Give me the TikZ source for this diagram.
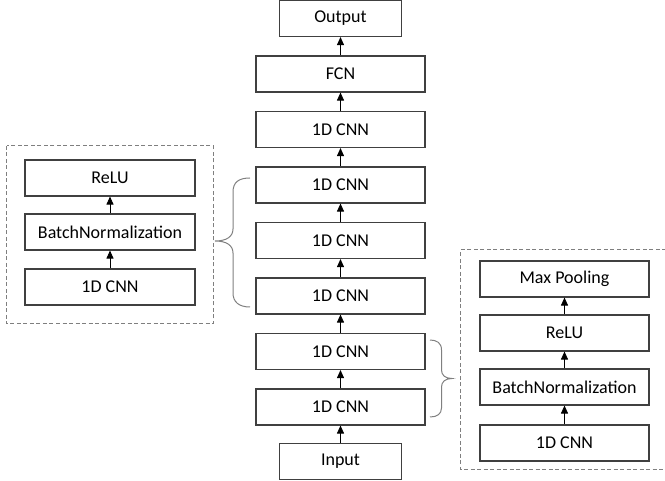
\documentclass[tikz,border=0pt]{standalone}
\usepackage{fontspec}
\setmainfont{Carlito}
\usetikzlibrary{arrows.meta}
\definecolor{boxline}{HTML}{404040}
\definecolor{dashline}{HTML}{7F7F7F}
\definecolor{braceline}{HTML}{808080}
\tikzset{
  layer/.style={draw=boxline, line width=1.1pt, fill=white, minimum width=169pt,
    minimum height=36pt, inner sep=0pt, font=\fontsize{18}{20}\selectfont},
  endbox/.style={layer, minimum width=122pt},
  flow/.style={draw=black, line width=0.9pt, -{Triangle[length=8pt,width=7pt]}},
  group/.style={draw=dashline, line width=1pt, dash pattern=on 4pt off 2.5pt},
  bracepath/.style={draw=braceline, line width=1pt}
}
\begin{document}
\begin{tikzpicture}[x=1pt, y=-1pt]
\useasboundingbox (0,0) rectangle (665,481);

% main column
\node[endbox] (out) at (340.5,18.5) {Output};
\node[layer]  (fcn) at (340.5,74)   {FCN};
\node[layer]  (c1)  at (340.5,129.5) {1D CNN};
\node[layer]  (c2)  at (340.5,185)   {1D CNN};
\node[layer]  (c3)  at (340.5,240.5) {1D CNN};
\node[layer]  (c4)  at (340.5,296)   {1D CNN};
\node[layer]  (c5)  at (340.5,351.5) {1D CNN};
\node[layer]  (c6)  at (340.5,407)   {1D CNN};
\node[endbox] (in)  at (340.5,461.5) {Input};

\draw[flow] (in) -- (c6);
\draw[flow] (c6) -- (c5);
\draw[flow] (c5) -- (c4);
\draw[flow] (c4) -- (c3);
\draw[flow] (c3) -- (c2);
\draw[flow] (c2) -- (c1);
\draw[flow] (c1) -- (fcn);
\draw[flow] (fcn) -- (out);

% left block: convolution unit
\draw[group] (6.5,146) rectangle (213,324);
\node[layer, minimum width=170pt] (lrelu) at (110,178) {ReLU};
\node[layer, minimum width=170pt] (lbn)   at (110,232) {BatchNormalization};
\node[layer, minimum width=170pt] (lcnn)  at (110,287) {1D CNN};
\draw[flow] (lcnn) -- (lbn);
\draw[flow] (lbn) -- (lrelu);

% right block: convolution unit with pooling (open towards the page edge)
\draw[group] (666,250) -- (460.5,250) -- (460.5,470) -- (666,470);
\node[layer] (rpool) at (564.5,279) {Max Pooling};
\node[layer] (rrelu) at (564.5,333) {ReLU};
\node[layer] (rbn)   at (564.5,387) {BatchNormalization};
\node[layer] (rcnn)  at (564.5,443) {1D CNN};
\draw[flow] (rcnn) -- (rbn);
\draw[flow] (rbn) -- (rrelu);
\draw[flow] (rrelu) -- (rpool);

% braces
\draw[bracepath] (250,178) .. controls (239,178) and (233,182) .. (233,192)
  -- (233,229) .. controls (233,237) and (226,241) .. (215,241)
  .. controls (226,241) and (233,245) .. (233,253)
  -- (233,293) .. controls (233,302) and (239,307) .. (250,307);
\draw[bracepath] (430,340) .. controls (437,340) and (441.5,343) .. (441.5,350)
  -- (441.5,370) .. controls (441.5,375) and (445,378.5) .. (452,378.5)
  .. controls (445,378.5) and (441.5,382) .. (441.5,387)
  -- (441.5,408) .. controls (441.5,414) and (437,417) .. (430,417);
\end{tikzpicture}
\end{document}
